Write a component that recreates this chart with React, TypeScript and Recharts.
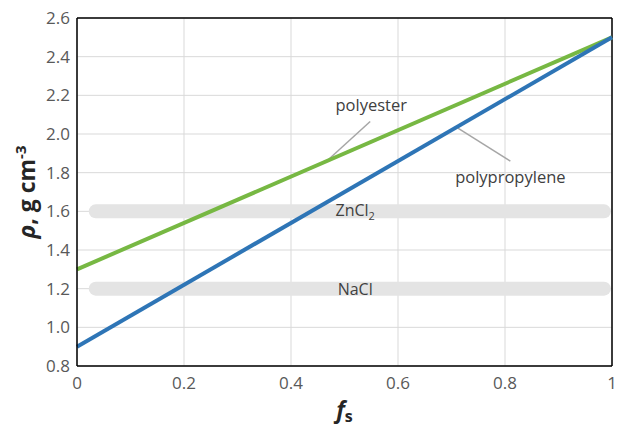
import {
  ComposedChart,
  Line,
  XAxis,
  YAxis,
  CartesianGrid,
  ReferenceLine,
  ReferenceDot,
  Label,
} from 'recharts';

const fsTicks = [0, 0.2, 0.4, 0.6, 0.8, 1];
const rhoTicks = [0.8, 1.0, 1.2, 1.4, 1.6, 1.8, 2.0, 2.2, 2.4, 2.6];

const fs = [0, 1];
const polyester = [1.3, 2.5];
const polypropylene = [0.9, 2.5];

// salt solution densities drawn as grey bands
const saltNames = ['NaCl', 'ZnCl2'];
const saltRho = [1.2, 1.6];
const bandFs = [0.035, 0.985];
const saltLabelFs = 0.52;

// annotation leaders: [fs, rho] pairs
const polyesterLeader = [
  [0.548, 2.065],
  [0.467, 1.86],
];
const polyesterText = [0.55, 2.145];
const polypropyleneLeader = [
  [0.712, 2.03],
  [0.81, 1.86],
];
const polypropyleneText = [0.81, 1.77];

const FONT = "'Open Sans', 'Liberation Sans', sans-serif";
const TICK = { fill: '#595959', fontSize: 17, fontFamily: FONT };

const lineData = fs.map((x, i) => ({
  fs: x,
  polyester: polyester[i],
  polypropylene: polypropylene[i],
}));

const bands = saltRho.map((rho) => bandFs.map((x) => ({ fs: x, rho })));

function SaltLabel(props: any) {
  const { cx, cy, name } = props;
  if (name === 'ZnCl2') {
    return (
      <text x={cx} y={cy} dy={5} textAnchor="middle" fill="#404040" fontSize={16} fontFamily={FONT}>
        ZnCl
        <tspan fontSize={11} dy={4}>
          2
        </tspan>
      </text>
    );
  }
  return (
    <text x={cx} y={cy} dy={6} textAnchor="middle" fill="#404040" fontSize={16} fontFamily={FONT}>
      {name}
    </text>
  );
}

function TextDot(props: any) {
  const { cx, cy, text } = props;
  return (
    <text x={cx} y={cy} dy={5} textAnchor="middle" fill="#404040" fontSize={16.5} fontFamily={FONT}>
      {text}
    </text>
  );
}

const fmtX = (v: number) => (v === 0 || v === 1 ? String(v) : v.toFixed(1));

export default function App() {
  return (
    <div style={{ position: 'absolute', left: 0, top: 0, background: '#fff' }}>
      <ComposedChart
        width={617}
        height={440}
        margin={{ top: 18, right: 5, left: 0, bottom: 0 }}
      >
        <CartesianGrid stroke="#d9d9d9" strokeWidth={1} />
        <XAxis
          type="number"
          dataKey="fs"
          domain={[0, 1]}
          ticks={fsTicks}
          tickFormatter={fmtX}
          tick={TICK}
          tickSize={0}
          tickMargin={11}
          axisLine={{ stroke: '#000', strokeWidth: 1.5 }}
          height={74}
          allowDuplicatedCategory={false}
        >
          <Label
            content={(p: any) => {
              const { viewBox } = p;
              const x = viewBox.x + viewBox.width / 2;
              return (
                <text x={x} y={418} textAnchor="middle" fontFamily={FONT} fontWeight="bold" fill="#262626">
                  <tspan fontSize={23} fontStyle="italic">f</tspan>
                  <tspan fontSize={16} dy={4}>s</tspan>
                </text>
              );
            }}
          />
        </XAxis>
        <YAxis
          type="number"
          domain={[0.8, 2.6]}
          ticks={rhoTicks}
          tickFormatter={(v: number) => v.toFixed(1)}
          tick={TICK}
          tickSize={0}
          tickMargin={7}
          axisLine={{ stroke: '#000', strokeWidth: 1.5 }}
          width={77}
        >
          <Label
            content={(p: any) => {
              const { viewBox } = p;
              const cy = viewBox.y + viewBox.height / 2;
              return (
                <text
                  x={35}
                  y={cy}
                  transform={`rotate(-90, 35, ${cy})`}
                  textAnchor="middle"
                  fontFamily={FONT}
                  fontWeight="bold"
                  fontSize={23}
                  fill="#262626"
                >
                  <tspan fontStyle="italic">ρ</tspan>
                  <tspan>, g cm</tspan>
                  <tspan fontSize={15} dy={-9}>-3</tspan>
                </text>
              );
            }}
          />
        </YAxis>
        <ReferenceLine y={2.6} stroke="#000" strokeWidth={1.5} />
        <ReferenceLine x={1} stroke="#000" strokeWidth={1.5} />

        {bands.map((d, i) => (
          <Line
            key={saltNames[i]}
            data={d}
            dataKey="rho"
            type="linear"
            stroke="#e4e4e4"
            strokeWidth={14}
            strokeLinecap="round"
            dot={false}
            activeDot={false}
            isAnimationActive={false}
          />
        ))}
        {saltNames.map((n, i) => (
          <ReferenceDot
            key={n}
            x={saltLabelFs}
            y={saltRho[i]}
            r={0}
            shape={(p: any) => <SaltLabel {...p} name={n} />}
          />
        ))}

        <ReferenceLine
          segment={polyesterLeader.map(([x, y]) => ({ x, y }))}
          stroke="#a6a6a6"
          strokeWidth={1.5}
        />
        <ReferenceLine
          segment={polypropyleneLeader.map(([x, y]) => ({ x, y }))}
          stroke="#a6a6a6"
          strokeWidth={1.5}
        />

        <Line
          data={lineData}
          dataKey="polyester"
          type="linear"
          stroke="#77b843"
          strokeWidth={4}
          dot={false}
          activeDot={false}
          isAnimationActive={false}
        />
        <Line
          data={lineData}
          dataKey="polypropylene"
          type="linear"
          stroke="#2e75b6"
          strokeWidth={4}
          dot={false}
          activeDot={false}
          isAnimationActive={false}
        />

        <ReferenceDot
          x={polyesterText[0]}
          y={polyesterText[1]}
          r={0}
          shape={(p: any) => <TextDot {...p} text="polyester" />}
        />
        <ReferenceDot
          x={polypropyleneText[0]}
          y={polypropyleneText[1]}
          r={0}
          shape={(p: any) => <TextDot {...p} text="polypropylene" />}
        />
      </ComposedChart>
    </div>
  );
}
